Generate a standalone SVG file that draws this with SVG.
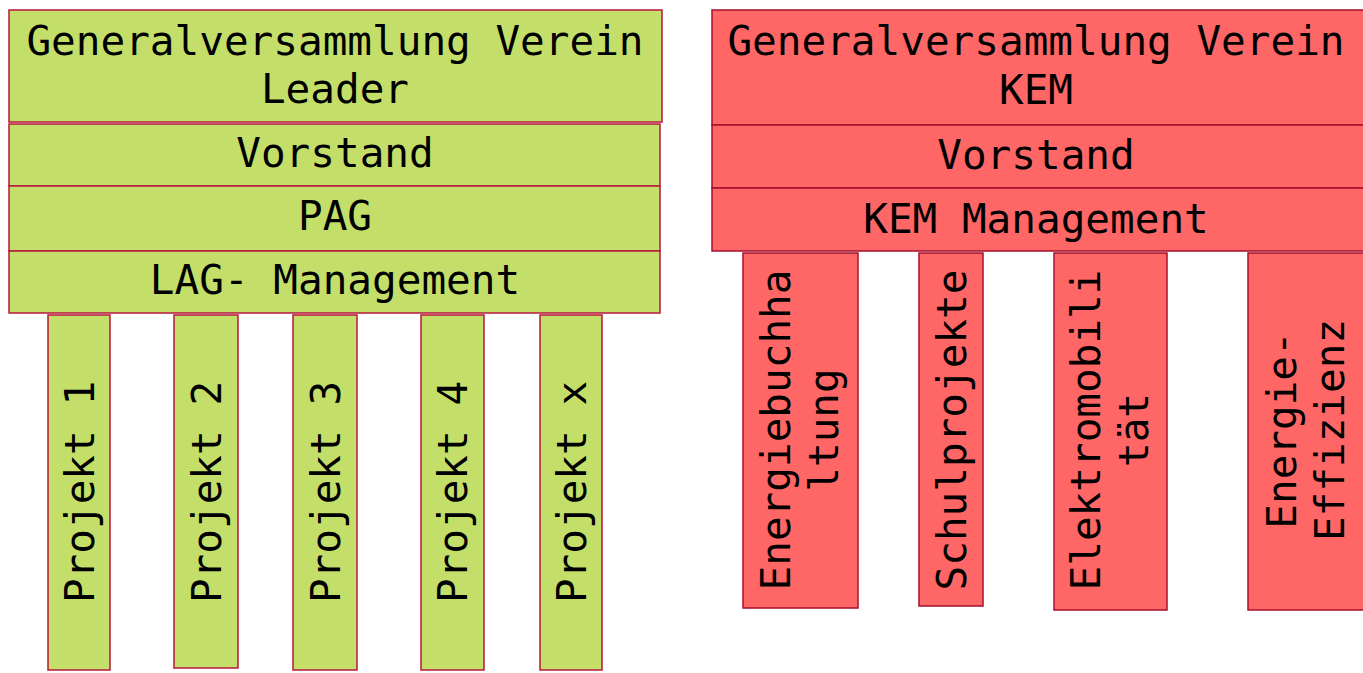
<svg xmlns="http://www.w3.org/2000/svg" width="1363" height="673" viewBox="0 0 1363 673">
<style>
.g{fill:#C4DF69;stroke:#B8173C;stroke-width:1.5}
.r{fill:#FF6666;stroke:#A5102C;stroke-width:1.5}
text{font-family:"DejaVu Sans Mono","Liberation Mono",monospace;font-size:41px;fill:#000;text-anchor:middle}
</style>
<rect width="1363" height="673" fill="#fff"/>
<g id="leader-gv"><rect class="g" x="9" y="10" width="653" height="112"/><text x="335" y="55">Generalversammlung Verein</text><text x="335" y="103">Leader</text></g>
<g id="leader-vorstand"><rect class="g" x="9" y="124" width="651" height="62"/><text x="335" y="167">Vorstand</text></g>
<g id="leader-pag"><rect class="g" x="9" y="186" width="651" height="65"/><text x="335" y="230">PAG</text></g>
<g id="leader-lag"><rect class="g" x="9" y="251" width="651" height="62"/><text x="335" y="294">LAG- Management</text></g>
<g id="projekt1"><rect class="g" x="48" y="315" width="62" height="355"/><text transform="translate(94,492) rotate(-90)">Projekt 1</text></g>
<g id="projekt2"><rect class="g" x="174" y="315" width="64" height="353"/><text transform="translate(221,492) rotate(-90)">Projekt 2</text></g>
<g id="projekt3"><rect class="g" x="293" y="315" width="64" height="355"/><text transform="translate(340,492) rotate(-90)">Projekt 3</text></g>
<g id="projekt4"><rect class="g" x="421" y="315" width="63" height="355"/><text transform="translate(467,492) rotate(-90)">Projekt 4</text></g>
<g id="projektx"><rect class="g" x="540" y="315" width="62" height="355"/><text transform="translate(586,492) rotate(-90)">Projekt x</text></g>
<g id="kem-gv"><rect class="r" x="712" y="10" width="652" height="115"/><text x="1036" y="55">Generalversammlung Verein</text><text x="1036" y="104">KEM</text></g>
<g id="kem-vorstand"><rect class="r" x="712" y="125" width="652" height="63"/><text x="1036" y="169">Vorstand</text></g>
<g id="kem-management"><rect class="r" x="712" y="188" width="652" height="63"/><text x="1036" y="233">KEM Management</text></g>
<g id="energiebuchhaltung"><rect class="r" x="743" y="253" width="115" height="355"/><text transform="translate(790,430) rotate(-90)"><tspan x="0" y="0">Energiebuchha</tspan><tspan x="0" y="48">ltung</tspan></text></g>
<g id="schulprojekte"><rect class="r" x="919" y="253" width="64" height="353"/><text transform="translate(966,430) rotate(-90)">Schulprojekte</text></g>
<g id="elektromobilitaet"><rect class="r" x="1054" y="253" width="113" height="357"/><text transform="translate(1100,430) rotate(-90)"><tspan x="0" y="0">Elektromobili</tspan><tspan x="0" y="48">tät</tspan></text></g>
<g id="energie-effizienz"><rect class="r" x="1248" y="253" width="116" height="357"/><text transform="translate(1296,430) rotate(-90)"><tspan x="0" y="0">Energie-</tspan><tspan x="0" y="48">Effizienz</tspan></text></g>
</svg>
